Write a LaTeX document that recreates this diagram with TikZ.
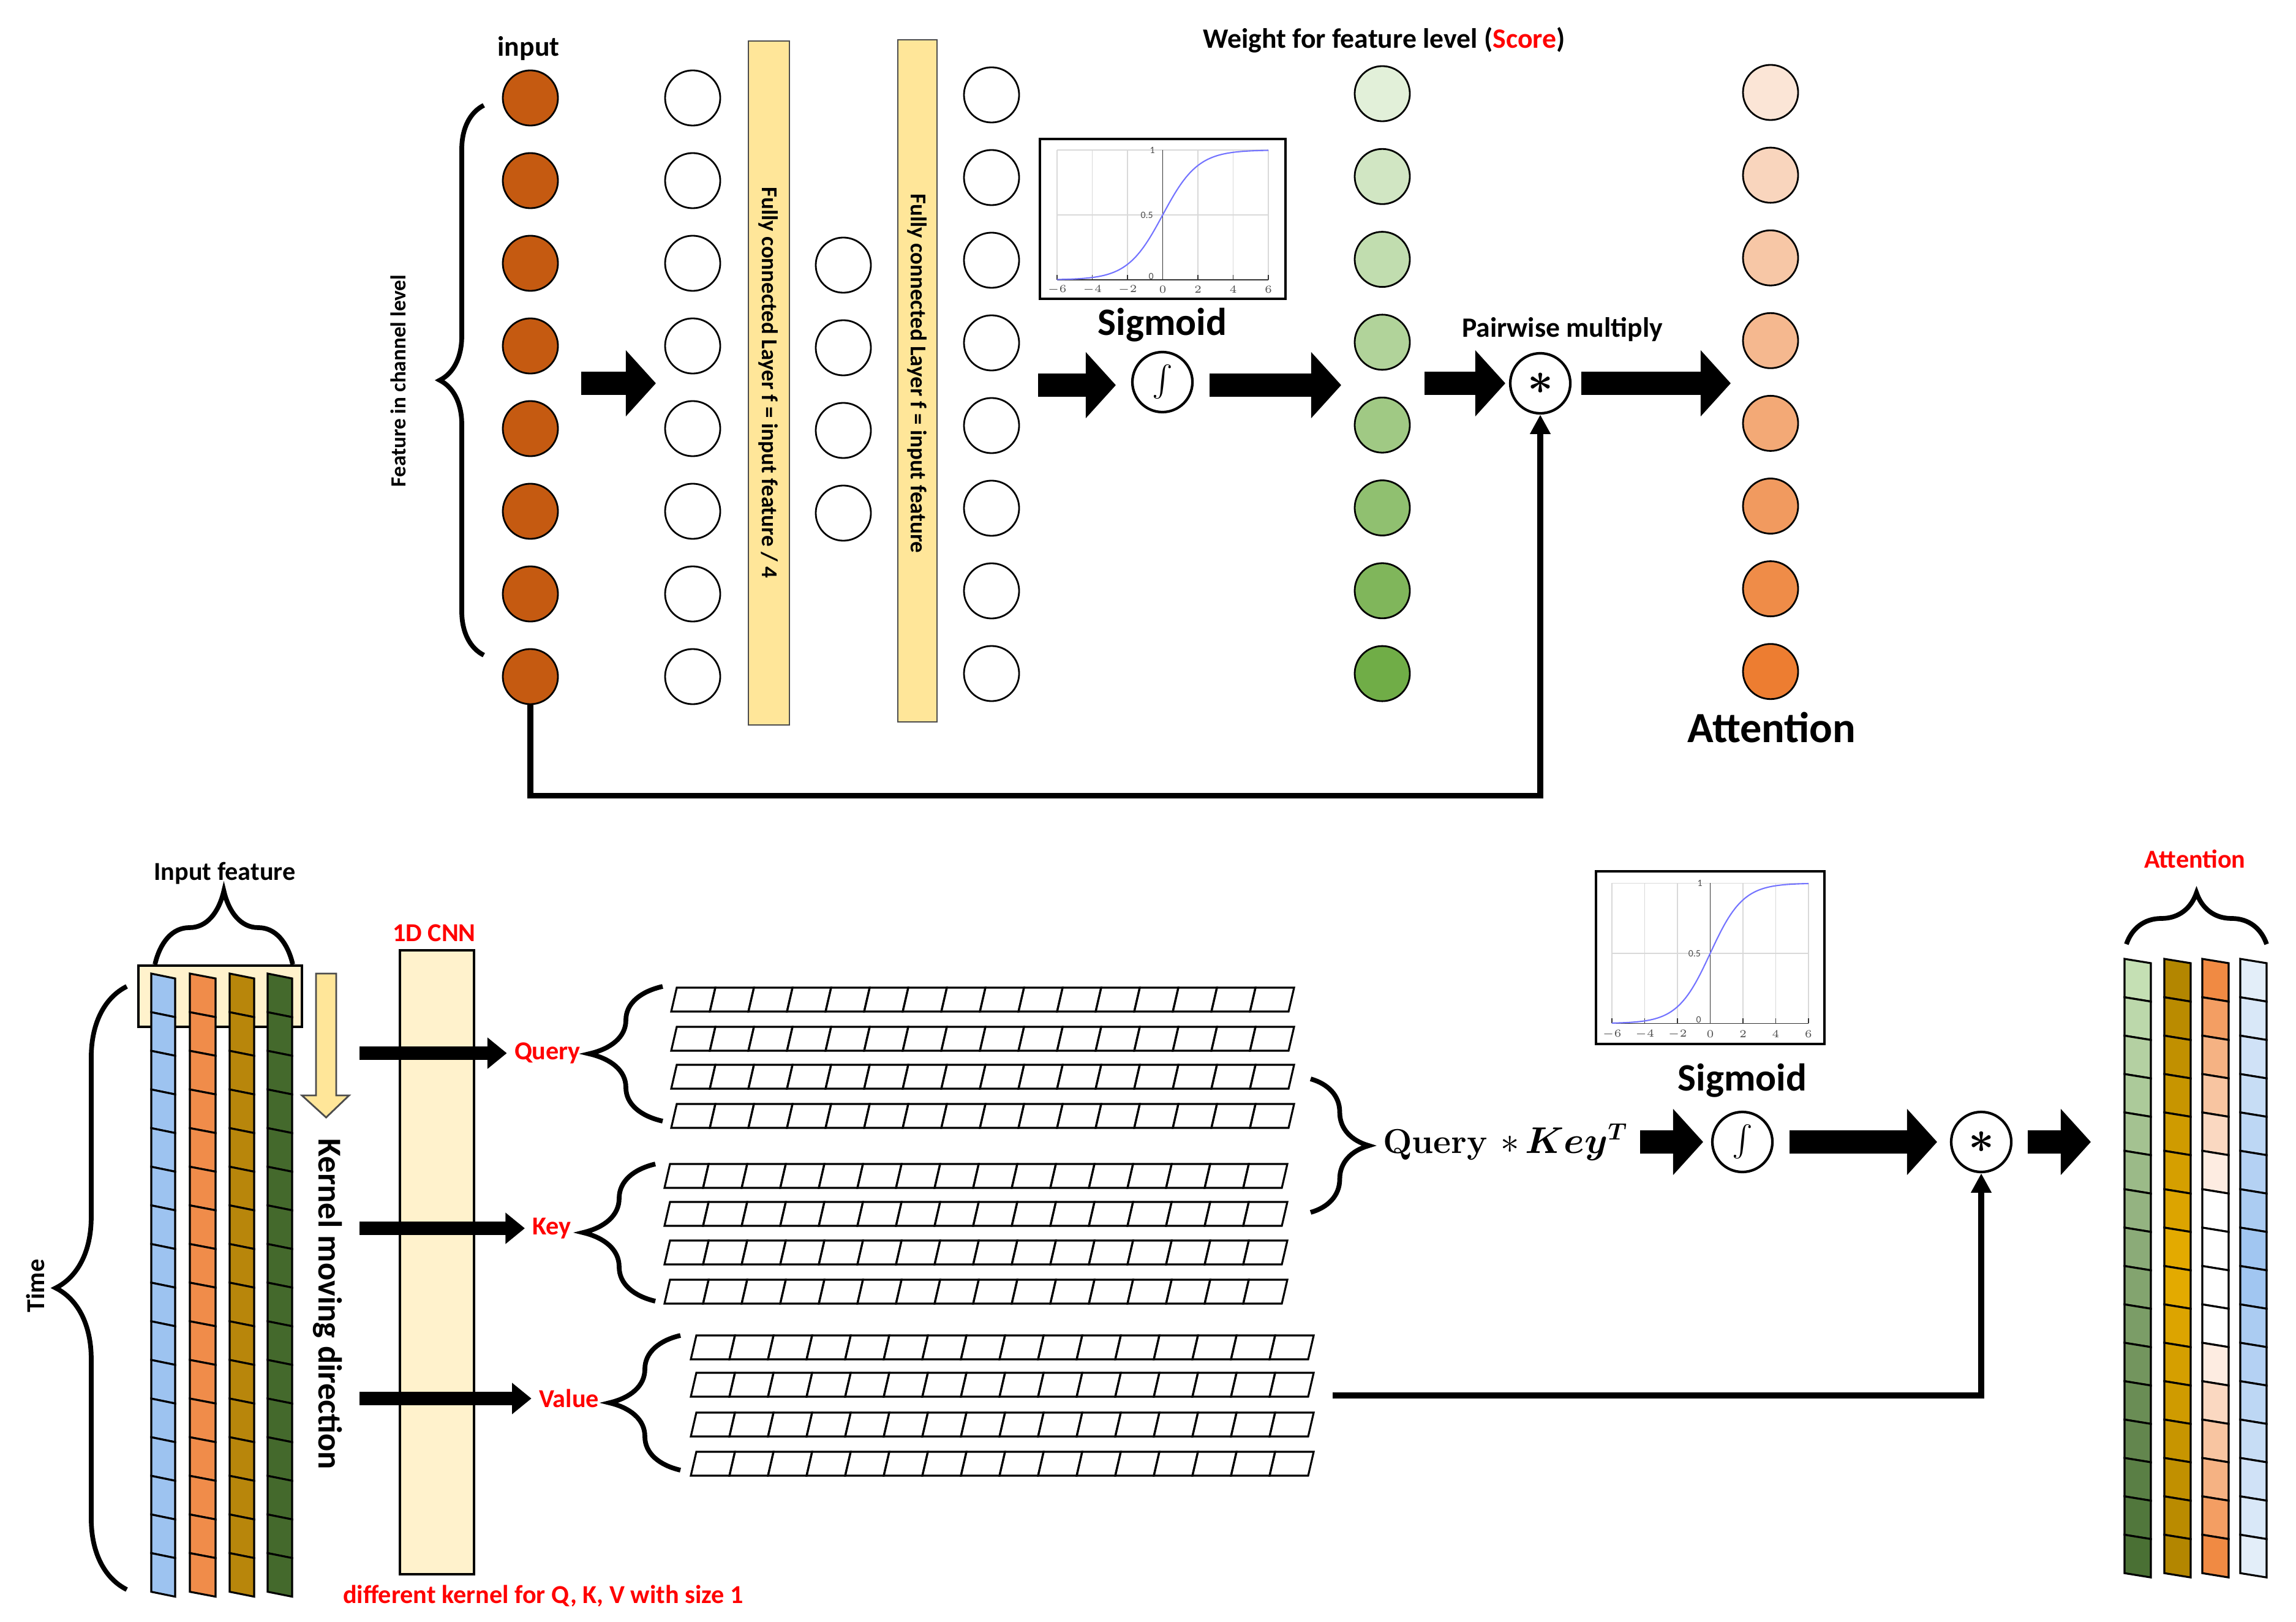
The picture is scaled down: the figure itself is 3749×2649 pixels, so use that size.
\documentclass[tikz,border=0pt]{standalone}
\usepackage{fontspec}
\setsansfont{Carlito}
\usepackage{amsmath,bm}
\usetikzlibrary{arrows.meta,decorations.pathreplacing,calc}
\definecolor{brownc}{HTML}{C55A11}
\definecolor{gS}{HTML}{E2F0D9}\definecolor{gE}{HTML}{70AD47}
\definecolor{oS}{HTML}{FBE5D6}\definecolor{oE}{HTML}{ED7D31}
\definecolor{barY}{HTML}{FFE699}\definecolor{cnnY}{HTML}{FFF2CC}
\definecolor{cBlue}{HTML}{9DC3F0}\definecolor{cOr}{HTML}{F08C4A}
\definecolor{cGold}{HTML}{B8860B}\definecolor{cGreen}{HTML}{44692C}
\definecolor{aG1}{HTML}{C5E0B4}\definecolor{aG2}{HTML}{4A7034}
\definecolor{aY1}{HTML}{B38600}\definecolor{aY2}{HTML}{E6AC00}
\definecolor{aO1}{HTML}{F08A43}
\definecolor{aB1}{HTML}{E3EEF9}\definecolor{aB2}{HTML}{9DC3F0}
\definecolor{redt}{HTML}{FF0000}
\newcommand\sigbox[4]{%
\begin{scope}[shift={(#1,#2)},xscale=#3,yscale=#4]
\draw[line width=1.2pt] (0,0) rectangle (401,261);
\foreach \g in {-6,-4,...,6} \draw[gray!30] ({200.5+\g*28.75},18) -- ({200.5+\g*28.75},230);
\foreach \g in {18,124,230} \draw[gray!30] (28,\g) -- (373,\g);
\draw[black!80] (28,230) -- (373,230);
\foreach \g in {-6,-4,...,6} \draw[black!80] ({200.5+\g*28.75},230) -- ({200.5+\g*28.75},222);
\draw[black!80] (200.5,18) -- (200.5,230);
\draw[blue!55,line width=0.6pt] plot[domain=-6:6,samples=60,smooth] ({200.5+\x*28.75},{230-212/(1+exp(-\x))});
\end{scope}}
\newcommand\sigticks[4]{%
\begin{scope}[shift={(#1,#2)},xscale=#3,yscale=#4]
\foreach \g in {-6,-4,-2,0,2,4,6} \node[font=\sffamily\fontsize{4.5}{5}\selectfont,text=black!70] (t\g) at ({200.5+\g*28.75},246) {$\g$};
\node[font=\sffamily\fontsize{4.5}{5}\selectfont,text=black!70,anchor=east] (l1) at (200,18) {1};
\node[font=\sffamily\fontsize{4.5}{5}\selectfont,text=black!70,anchor=east] (l2) at (197,124) {0.5};
\node[font=\sffamily\fontsize{4.5}{5}\selectfont,text=black!70,anchor=east] (l3) at (198,224) {0};
\end{scope}}
\newcommand\strip[2]{%
\foreach \k in {0,...,15}
\draw[line width=0.9pt] ({#1+\k*63},#2) -- ({#1+\k*63+63},#2) -- ({#1+\k*63+54},#2+39) -- ({#1+\k*63-9},#2+39) -- cycle;}
\tikzset{
 lbl/.style={font=\sffamily\bfseries\fontsize{13}{15}\selectfont},
 red lbl/.style={font=\sffamily\bfseries\fontsize{12}{14}\selectfont,text=redt},
 neuron/.style={circle,draw,line width=0.8pt,minimum size=0.9cm,inner sep=0pt},
 blockarrow/.style={line width=11pt,-{Triangle[length=14pt,width=30pt]}},
 smallblock/.style={line width=6.5pt,-{Triangle[length=9pt,width=14pt]}},
 bigbrace/.style={decorate,line width=2.2pt},
 opcirc/.style={circle,draw,line width=1.2pt,minimum size=0.98cm,inner sep=0pt},
 link/.style={line width=2.8pt,-{Triangle[length=9pt,width=9pt]}},
}
\begin{document}
\begin{tikzpicture}[x=0.01cm,y=-0.01cm]
\useasboundingbox (0,0) rectangle (3749,2649);
% ================= TOP =================
\node[lbl] (inputlbl) at (863,79) {input};
\foreach \i in {1,...,8} \node[neuron,fill=brownc] (in\i) at (866,{160+(\i-1)*135}) {};
\draw[bigbrace,decoration={brace,amplitude=0.72cm}] (790,1070) -- (790,172);
\node[font=\sffamily\bfseries\fontsize{10}{12}\selectfont,rotate=90] (fcl) at (650,622) {Feature in channel level};
\draw[blockarrow] (949,626) -- (1071,626);
\foreach \i in {1,...,8} \node[neuron] (c2\i) at (1131,{160+(\i-1)*135}) {};
\draw[fill=barY,draw=black!70,line width=0.8pt] (1222,67) rectangle (1289,1184);
\node[font=\sffamily\bfseries\fontsize{10.5}{12}\selectfont,rotate=-90] (bar1) at (1255,625) {Fully connected Layer f = input feature / 4};
\foreach \i in {1,...,4} \node[neuron] (c3\i) at (1377,{433+(\i-1)*135}) {};
\draw[fill=barY,draw=black!70,line width=0.8pt] (1466,65) rectangle (1530,1179);
\node[font=\sffamily\bfseries\fontsize{10.5}{12}\selectfont,rotate=-90] (bar2) at (1498,610) {Fully connected Layer f = input feature};
\foreach \i in {1,...,8} \node[neuron] (c4\i) at (1619,{155+(\i-1)*135}) {};
\sigbox{1698}{227}{1}{1}
\sigticks{1698}{227}{1}{1}
\node[font=\sffamily\bfseries\fontsize{18}{20}\selectfont] (sig1) at (1898,531) {Sigmoid};
\draw[blockarrow] (1695,629) -- (1822,629);
\node[opcirc] (int1) at (1898,624) {\Large$\int$};
\draw[blockarrow] (1975,629) -- (2190,629);
\foreach \i in {1,...,8} {\pgfmathtruncatemacro\p{100-(\i-1)*100/7}
 \node[neuron,fill=gS!\p!gE] (g\i) at (2257,{153+(\i-1)*135.3}) {};}
\node[lbl] (wlbl) at (2260,65) {Weight for feature level (\textcolor{redt}{Score})};
\draw[blockarrow] (2326,626) -- (2458,626);
\node[opcirc] (star1) at (2515,626) {\huge$\bm\ast$};
\node[lbl] (pm) at (2551,538) {Pairwise multiply};
\draw[blockarrow] (2582,626) -- (2826,626);
\foreach \i in {1,...,8} {\pgfmathtruncatemacro\p{100-(\i-1)*100/7}
 \node[neuron,fill=oS!\p!oE] (o\i) at (2891,{151+(\i-1)*135.1}) {};}
\node[font=\sffamily\bfseries\fontsize{20}{22}\selectfont] (att1) at (2893,1188) {Attention};
\draw[link] (in8.south) -- ++(0,148) -| (star1.south);
% ================= BOTTOM =================
\node[font=\sffamily\bfseries\fontsize{12}{14}\selectfont] (inf) at (367,1426) {Input feature};
\draw[bigbrace,decoration={brace,amplitude=1.2cm}] (253,1575) -- (478,1575);
\draw[fill=cnnY,draw=black,line width=1pt] (226,1577) rectangle (493,1677);
\draw[bigbrace,decoration={brace,amplitude=1.16cm}] (207,2596) -- (207,1611);
\node[font=\sffamily\bfseries\fontsize{12}{14}\selectfont,rotate=90] (time) at (58,2100) {Time};
\foreach \L/\R/\c in {247/286/cBlue,310/352/cOr,375/415/cGold,437/477/cGreen}
 \foreach \k in {0,...,15}
  \draw[fill=\c,line width=0.9pt] (\L,{1590+\k*63.1}) -- (\R,{1598+\k*63.1}) -- (\R,{1598+(\k+1)*63.1}) -- (\L,{1590+(\k+1)*63.1}) -- cycle;
\draw[fill=barY,draw=black!70,line width=0.8pt] (516,1590) -- (549,1590) -- (549,1789) -- (570,1789) -- (532.5,1825) -- (493,1789) -- (516,1789) -- cycle;
\node[font=\sffamily\bfseries\fontsize{15.5}{17}\selectfont,rotate=-90] (kmd) at (535,2130) {Kernel moving direction};
\draw[fill=cnnY,line width=1pt] (653,1552) rectangle (774,2571);
\node[red lbl] (cnn) at (709,1524) {1D CNN};
\node[red lbl] (q) at (894,1720) {Query};
\node[red lbl] (k) at (901,2006) {Key};
\node[red lbl] (v) at (929,2284) {Value};
\draw[smallblock] (587,1720) -- (q.west);
\draw[smallblock] (587,2006) -- (k.west);
\draw[smallblock] (587,2284) -- (v.west);
\node[red lbl] (dk) at (887,2606) {different kernel for Q, K, V with size 1};
\draw[bigbrace,decoration={brace,amplitude=1.2cm}] (1082,1831) -- (1082,1611);
\draw[bigbrace,decoration={brace,amplitude=1.18cm}] (1070,2125) -- (1070,1901);
\draw[bigbrace,decoration={brace,amplitude=1.16cm}] (1111,2401) -- (1111,2181);
\foreach \y in {1613,1677,1739,1803} {\strip{1105}{\y}}
\foreach \y in {1901,1963,2026,2090} {\strip{1094}{\y}}
\foreach \y in {2181,2242,2307,2371} {\strip{1137}{\y}}
\draw[bigbrace,decoration={brace,amplitude=0.95cm}] (2140,1762) -- (2140,1980);
\node[font=\rmfamily\bfseries\fontsize{16}{18}\selectfont] (qk) at (2458,1865) {Query $\ast\,\bm{Key^{T}}$};
\sigbox{2606}{1423}{0.93}{1.08}
\sigticks{2606}{1423}{0.93}{1.08}
\node[font=\sffamily\bfseries\fontsize{18}{20}\selectfont] (sig2) at (2845,1765) {Sigmoid};
\draw[blockarrow] (2678,1865) -- (2781,1865);
\node[opcirc] (int2) at (2845,1865) {\Large$\int$};
\draw[blockarrow] (2922,1865) -- (3163,1865);
\node[opcirc] (star2) at (3235,1865) {\huge$\bm\ast$};
\draw[blockarrow] (3311,1865) -- (3414,1865);
\coordinate (vend) at (2176,2279);
\draw[link] (vend) -| (star2.south);
\node[font=\sffamily\bfseries\fontsize{12}{14}\selectfont,text=redt] (att2) at (3584,1403) {Attention};
\draw[bigbrace,decoration={brace,amplitude=0.84cm}] (3472,1542) -- (3701,1542);
\foreach \k in {0,...,15} {
 \pgfmathtruncatemacro\pg{100-\k*100/15}
 \pgfmathtruncatemacro\py{abs(\k-7.5)*100/7.5}
 \pgfmathtruncatemacro\po{max(0,(abs(\k-7.5)-1.5)*100/6)}
 \pgfmathtruncatemacro\pb{abs(\k-7.5)*100/7.5}
 \foreach \L/\R/\c in {3469/3512/aG1!\pg!aG2,3534/3577/aY1!\py!aY2,3596/3639/aO1!\po!white,3658/3701/aB1!\pb!aB2}
  \draw[fill=\c,line width=0.9pt] (\L,{1566+\k*62.7}) -- (\R,{1573+\k*62.7}) -- (\R,{1573+(\k+1)*62.7}) -- (\L,{1566+(\k+1)*62.7}) -- cycle;
}
\end{tikzpicture}
\end{document}
